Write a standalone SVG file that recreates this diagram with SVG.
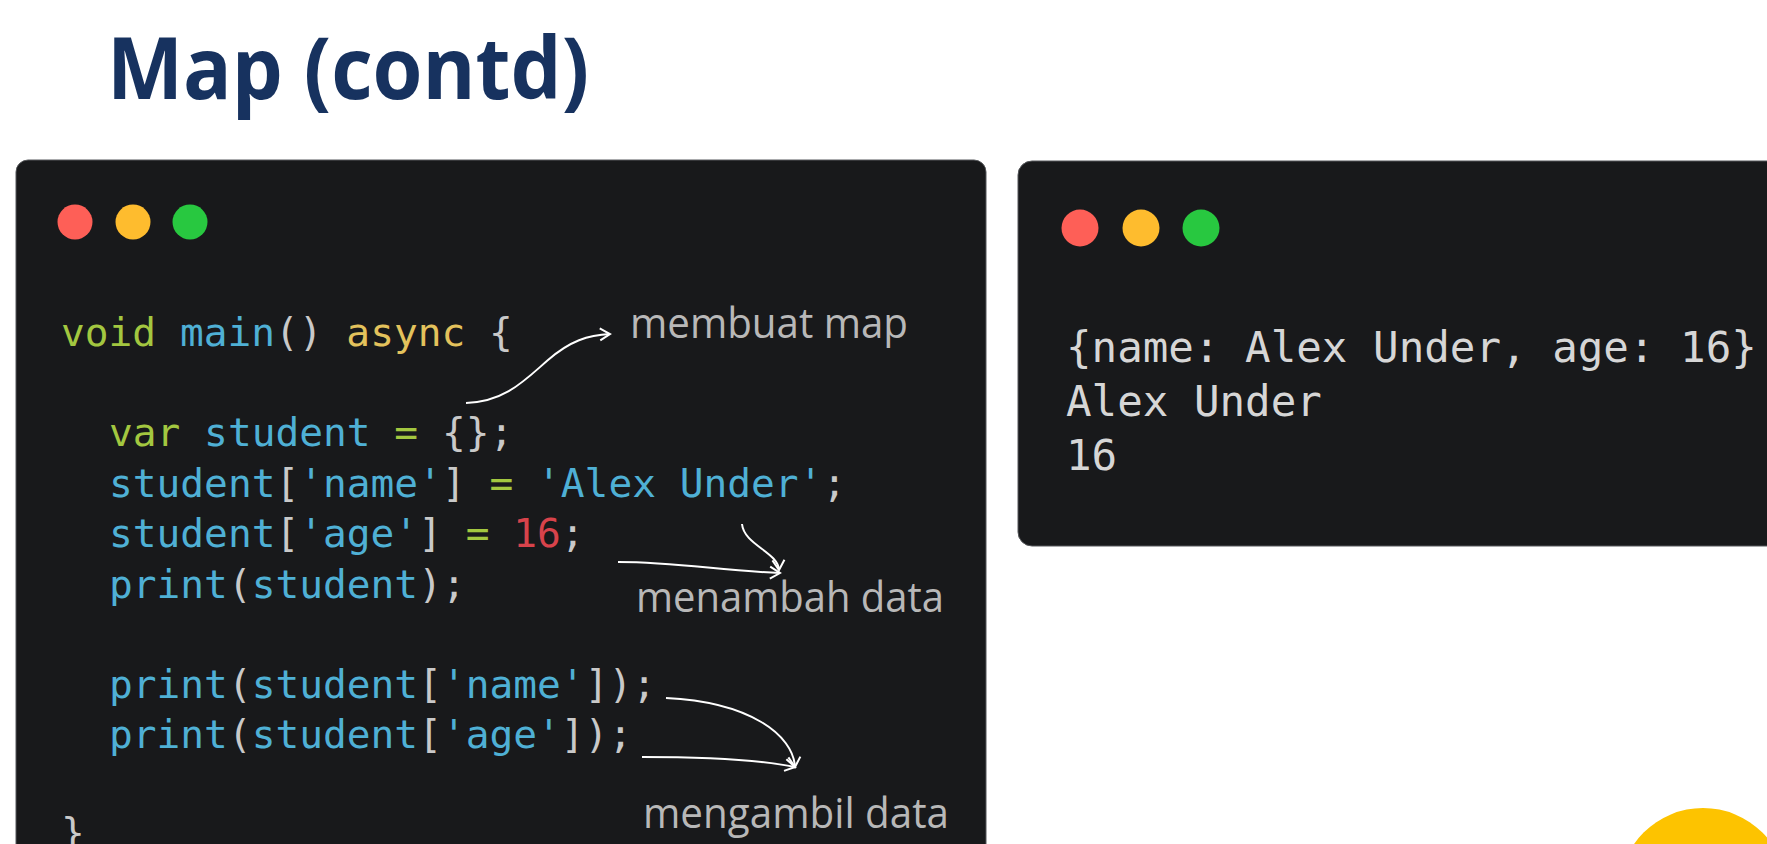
<svg xmlns="http://www.w3.org/2000/svg" width="1767" height="844" viewBox="0 0 1767 844">
<style>
.title{font-family:"Open Sans","Noto Sans",sans-serif;font-weight:700;font-size:86px;fill:#17325f}
.code{font-family:"DejaVu Sans Mono",monospace;font-size:39.5px}
.out{font-family:"DejaVu Sans Mono",monospace;font-size:42.5px;fill:#d6d6d6}
.note{font-family:"Open Sans","Noto Sans",sans-serif;font-size:42px;fill:#b8b8b8}
.win{fill:#18191b;stroke:#55575a;stroke-width:1}
.b{fill:#4fb0d5}.g{fill:#c9c9c9}.gr{fill:#a3c740}.y{fill:#e3c25c}.r{fill:#d8434b}
.arrow{fill:none;stroke:#ffffff;stroke-width:2;marker-end:url(#head)}
</style>
<defs>
<marker id="head" markerUnits="userSpaceOnUse" markerWidth="16" markerHeight="16" refX="0" refY="0" viewBox="-12 -8 14 16" orient="auto">
<path d="M-10,-6 L0,0 L-10,6" fill="none" stroke="#ffffff" stroke-width="2"/>
</marker>
</defs>
<rect width="1767" height="844" fill="#ffffff"/>
<g id="title"><text class="title" x="107" y="99" textLength="482" lengthAdjust="spacingAndGlyphs">Map (contd)</text></g>
<g id="code-window">
<rect class="win" x="16" y="160" width="970" height="720" rx="12"/>
<circle cx="75" cy="222" r="17.5" fill="#fe5f57"/>
<circle cx="133" cy="222" r="17.5" fill="#febc2e"/>
<circle cx="190" cy="222" r="17.5" fill="#28c840"/>
<text class="code" x="61" y="346" xml:space="preserve"><tspan class="gr">void</tspan><tspan class="b"> main</tspan><tspan class="g">()</tspan><tspan class="y"> async</tspan><tspan class="g"> {</tspan></text>
<text class="code" x="109" y="446" xml:space="preserve"><tspan class="gr">var</tspan><tspan class="b"> student</tspan><tspan class="gr"> =</tspan><tspan class="g"> {};</tspan></text>
<text class="code" x="109" y="497" xml:space="preserve"><tspan class="b">student</tspan><tspan class="g">[</tspan><tspan class="b">'name'</tspan><tspan class="g">]</tspan><tspan class="gr"> =</tspan><tspan class="b"> 'Alex Under'</tspan><tspan class="g">;</tspan></text>
<text class="code" x="109" y="547" xml:space="preserve"><tspan class="b">student</tspan><tspan class="g">[</tspan><tspan class="b">'age'</tspan><tspan class="g">]</tspan><tspan class="gr"> =</tspan><tspan class="r"> 16</tspan><tspan class="g">;</tspan></text>
<text class="code" x="109" y="598" xml:space="preserve"><tspan class="b">print</tspan><tspan class="g">(</tspan><tspan class="b">student</tspan><tspan class="g">);</tspan></text>
<text class="code" x="109" y="698" xml:space="preserve"><tspan class="b">print</tspan><tspan class="g">(</tspan><tspan class="b">student</tspan><tspan class="g">[</tspan><tspan class="b">'name'</tspan><tspan class="g">]);</tspan></text>
<text class="code" x="109" y="748" xml:space="preserve"><tspan class="b">print</tspan><tspan class="g">(</tspan><tspan class="b">student</tspan><tspan class="g">[</tspan><tspan class="b">'age'</tspan><tspan class="g">]);</tspan></text>
<text class="code g" x="61" y="846">}</text>
</g>
<g id="output-window">
<rect class="win" x="1018" y="161" width="780" height="385" rx="14"/>
<circle cx="1080" cy="228" r="18.5" fill="#fe5f57"/>
<circle cx="1141" cy="228" r="18.5" fill="#febc2e"/>
<circle cx="1201" cy="228" r="18.5" fill="#28c840"/>
<text class="out" x="1066" y="362" xml:space="preserve">{name: Alex Under, age: 16}</text>
<text class="out" x="1066" y="416" xml:space="preserve">Alex Under</text>
<text class="out" x="1066" y="470">16</text>
</g>
<g id="label-membuat"><text class="note" x="630" y="338" textLength="278" lengthAdjust="spacingAndGlyphs">membuat map</text></g>
<g id="label-menambah"><text class="note" x="636" y="612" textLength="308" lengthAdjust="spacingAndGlyphs">menambah data</text></g>
<g id="label-mengambil"><text class="note" x="643" y="828" textLength="306" lengthAdjust="spacingAndGlyphs">mengambil data</text></g>
<g id="connectors">
<path class="arrow" d="M466,403 C505,402 525,380 548,360 C570,341 588,335 610,334"/>
<path class="arrow" d="M618,562 C680,562 720,571 780,573"/>
<path class="arrow" d="M742,524 C744,545 778,552 779,570"/>
<path class="arrow" d="M666,698 C750,702 793,735 795,767"/>
<path class="arrow" d="M642,757 C700,757 760,760 795,767"/>
</g>
<circle id="deco" cx="1703" cy="892" r="84" fill="#fdc300"/>
</svg>
